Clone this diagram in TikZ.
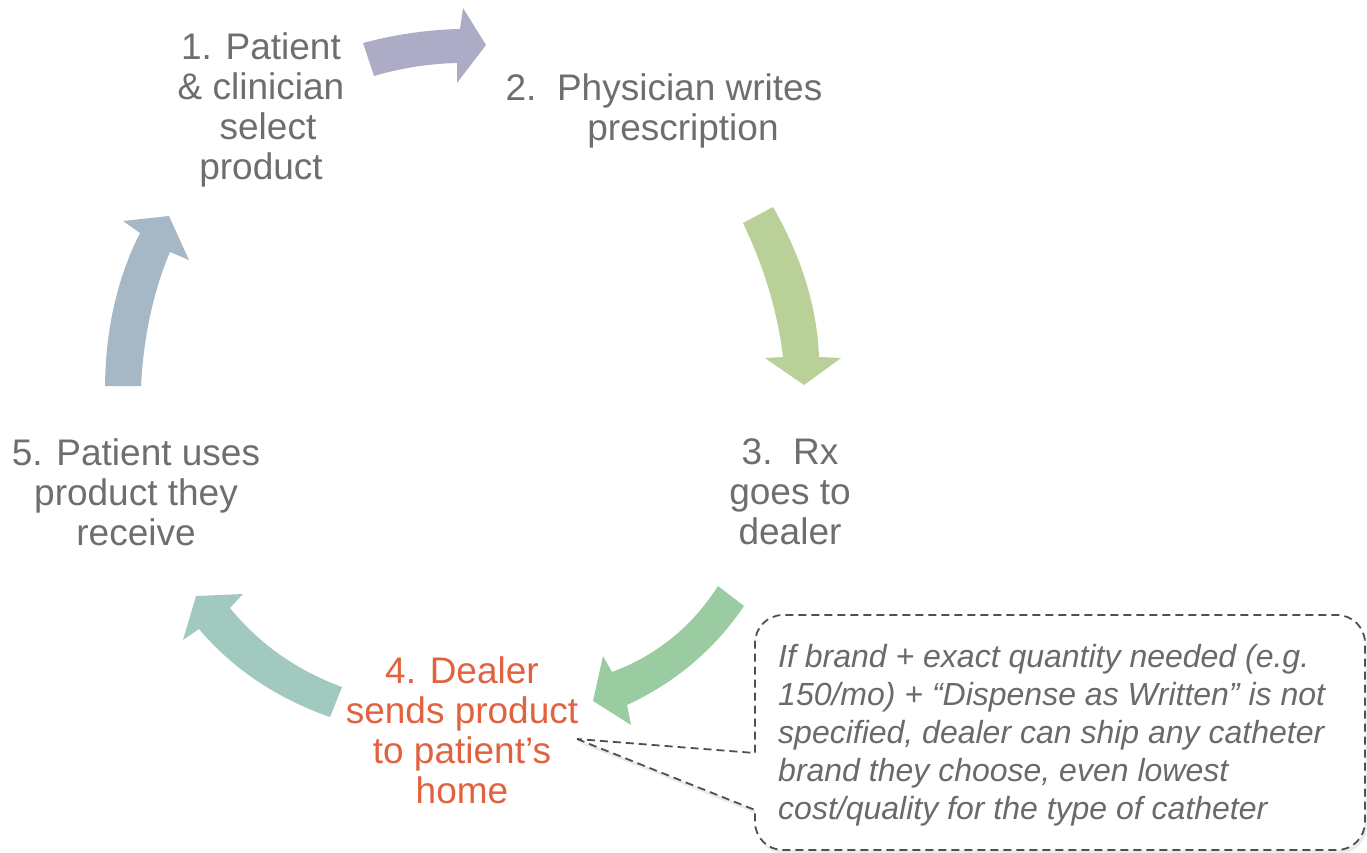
\documentclass[tikz,border=0pt]{standalone}
\usepackage{fontspec}
\setmainfont{Liberation Sans}
\usetikzlibrary{shadows,calc}
\definecolor{txtgray}{HTML}{6E6E6E}
\definecolor{txtred}{HTML}{E2623F}
\definecolor{arrPurple}{HTML}{ADACC7}
\definecolor{arrLime}{HTML}{B9D199}
\definecolor{arrGreen}{HTML}{9BCCA1}
\definecolor{arrTeal}{HTML}{A2C9BF}
\definecolor{arrBlue}{HTML}{A6B8C6}
\definecolor{notegray}{HTML}{6A6A6A}
\definecolor{dashgray}{HTML}{505050}
% quadratic curve helper: from #1 with control #2 to #3
\newcommand{\qcurve}[3]{.. controls ($#1!0.6667!#2$) and ($#3!0.6667!#2$) .. #3}
\begin{document}
\begin{tikzpicture}[x=1pt,y=-1pt,
  steplabel/.style={font=\fontsize{37}{40}\selectfont, text=txtgray, align=center, inner sep=0pt},
  redlabel/.style={steplabel, text=txtred},
  notetext/.style={font=\fontsize{32}{38}\selectfont\itshape, text=notegray, align=left, inner sep=0pt, anchor=west},
  calloutbox/.style={draw=dashgray, line width=1.8pt, dash pattern=on 8pt off 5pt, fill=white,
     drop shadow={opacity=0.16, shadow xshift=2pt, shadow yshift=-4pt}}
]
\useasboundingbox (0,0) rectangle (1367,852);

% block arrows
\fill[arrPurple] (363,43) \qcurve{(363,43)}{(412,30)}{(460,29)} -- (463,8) -- (486,45) -- (457,83) -- (457,63)
   \qcurve{(457,63)}{(415,64)}{(374,76)} -- cycle;
\fill[arrLime] (743,223) \qcurve{(743,223)}{(775,290)}{(783,357)} -- (765,358) -- (804,385) -- (841,358) -- (819,357)
   \qcurve{(819,357)}{(816,282)}{(773,207)} -- cycle;
\fill[arrGreen] (718,586) \qcurve{(718,586)}{(679,647)}{(612,672)} -- (603,656) -- (593,701) -- (631,725) -- (627,705)
   \qcurve{(627,705)}{(700,671)}{(744,606)} -- cycle;
\fill[arrTeal] (342,687) \qcurve{(342,687)}{(274,662)}{(230,608)} -- (243,594) -- (196,596) -- (183,640) -- (199,629)
   \qcurve{(199,629)}{(250,689)}{(330,717)} -- cycle;
\fill[arrBlue] (105,386) \qcurve{(105,386)}{(106,300)}{(140,233)} -- (123,221) -- (169,216) -- (189,260) -- (170,252)
   \qcurve{(170,252)}{(145,311)}{(141,386)} -- cycle;

% step labels
\node[steplabel] (s1) at (261,110) {1. Patient\\\& clinician\\\hspace*{14pt}select\\product};
\node[steplabel] (s2) at (664,111) {2.\ \ Physician writes\\\hspace*{38pt}prescription};
\node[steplabel] (s3) at (790,492) {3.\ \ Rx\\goes to\\dealer};
\node[redlabel]  (s4) at (462,730) {4. Dealer\\sends product\\to patient’s\\home};
\node[steplabel] (s5) at (136,492) {5. Patient uses\\product they\\receive};

% callout
\path[calloutbox] (577,739) -- (755,810) [rounded corners=28pt] -- (755,850) -- (1365,850) -- (1365,615) -- (755,615) [sharp corners] -- (755,753) -- cycle;
\node[notetext] (note) at (778,735) {If brand + exact quantity needed (e.g.\\150/mo) + “Dispense as Written” is not\\specified, dealer can ship any catheter\\brand they choose, even lowest\\cost/quality for the type of catheter};
\end{tikzpicture}
\end{document}
